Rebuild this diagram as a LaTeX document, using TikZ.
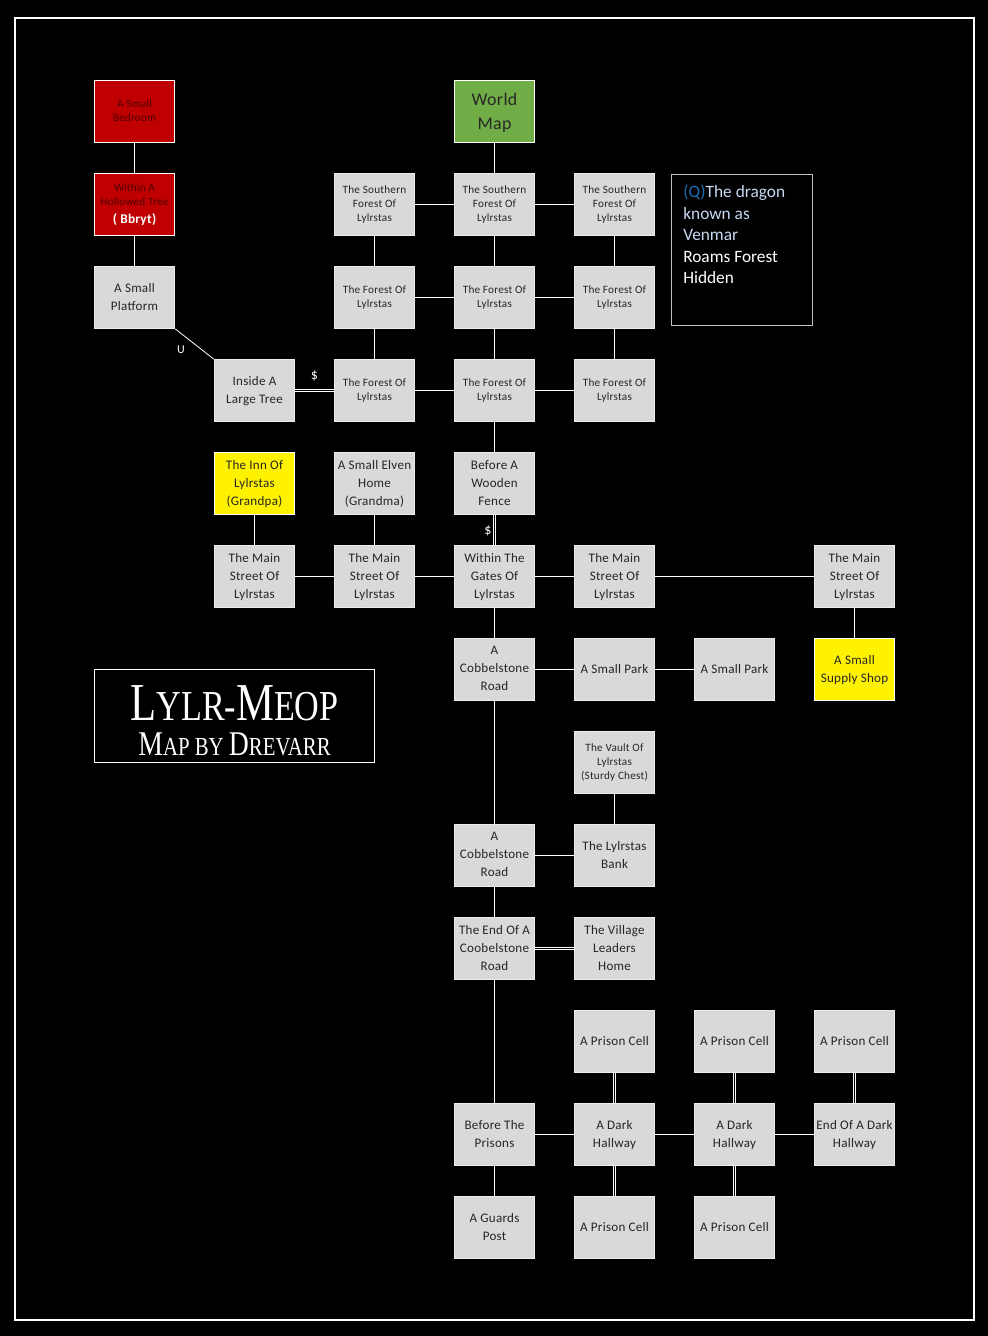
\documentclass[tikz,border=0pt]{standalone}
\usepackage{fontspec}
\setmainfont[LetterSpace=2]{Carlito}
\newfontfamily\plainfont{Carlito}
\newfontfamily\titlefont[FakeStretch=0.8]{Liberation Serif}
\definecolor{roomgray}{HTML}{D9D9D9}
\definecolor{lockedred}{HTML}{C00000}
\definecolor{maproad}{HTML}{70AD47}
\definecolor{questblue}{HTML}{1F6FB5}
\definecolor{questpale}{HTML}{C6D9F1}
\tikzset{
    room/.style={draw=white!50!roomgray, fill=roomgray, line width=0.6pt, minimum width=60.5pt, minimum height=46.5pt, inner sep=0pt, align=center, text=black!85, text depth=1.3pt, font=\fontsize{9.8}{13.5}\selectfont},
    tinyroom/.style={room, text depth=1.6pt, font=\fontsize{8.4}{10.5}\selectfont},
    redroom/.style={room, text depth=1.5pt, draw=white, fill=lockedred, text=black!60!lockedred, font=\fontsize{8.4}{10.5}\selectfont},
    shoproom/.style={room, draw=white, fill=yellow, text=black!85},
    path/.style={draw=white, line width=0.6pt},
    gate/.style={draw=white, line width=0.6pt, double=black, double distance=1pt},
    marker/.style={text=white, font=\fontsize{10.5}{12}\selectfont},
}
\begin{document}
\begin{tikzpicture}[x=0.75pt, y=-0.75pt]
    \useasboundingbox[fill=black] (0,0) rectangle (988,1336);
    \draw[white, line width=1.5pt] (14.5,18) rectangle (974,1320);

    % tree house
    \node[redroom] (bedroom) at (134.5,111.5) {A Small\\Bedroom};
    \node[redroom] (hollow) at (134.5,204.5) {Within A\\Hollowed Tree\\[3pt]{\color{white}\fontsize{10}{12}\selectfont\bfseries ( Bbryt)}};
    \node[room] (platform) at (134.5,297.5) {A Small\\Platform};
    \node[room] (insidetree) at (254.5,390.5) {Inside A\\Large Tree};

    % forest
    \node[room, text depth=1pt, draw=white, fill=maproad, font=\fontsize{13.4}{18}\selectfont] (worldmap) at (494.5,111.5) {World\\Map};
    \node[tinyroom] (southw) at (374.5,204.5) {The Southern\\Forest Of\\Lylrstas};
    \node[tinyroom] (southc) at (494.5,204.5) {The Southern\\Forest Of\\Lylrstas};
    \node[tinyroom] (southe) at (614.5,204.5) {The Southern\\Forest Of\\Lylrstas};
    \node[tinyroom] (midw) at (374.5,297.5) {The Forest Of\\Lylrstas};
    \node[tinyroom] (midc) at (494.5,297.5) {The Forest Of\\Lylrstas};
    \node[tinyroom] (mide) at (614.5,297.5) {The Forest Of\\Lylrstas};
    \node[tinyroom] (lowW) at (374.5,390.5) {The Forest Of\\Lylrstas};
    \node[tinyroom] (lowc) at (494.5,390.5) {The Forest Of\\Lylrstas};
    \node[tinyroom] (lowe) at (614.5,390.5) {The Forest Of\\Lylrstas};

    % village
    \node[shoproom] (inn) at (254.5,483.5) {The Inn Of\\Lylrstas\\(Grandpa)};
    \node[room] (elfhome) at (374.5,483.5) {A Small Elven\\Home\\(Grandma)};
    \node[room] (fence) at (494.5,483.5) {Before A\\Wooden\\Fence};
    \node[room] (street1) at (254.5,576.5) {The Main\\Street Of\\Lylrstas};
    \node[room] (street2) at (374.5,576.5) {The Main\\Street Of\\Lylrstas};
    \node[room] (gates) at (494.5,576.5) {Within The\\Gates Of\\Lylrstas};
    \node[room] (street3) at (614.5,576.5) {The Main\\Street Of\\Lylrstas};
    \node[room] (street4) at (854.5,576.5) {The Main\\Street Of\\Lylrstas};
    \node[room] (cobble1) at (494.5,669.5) {A\\Cobbelstone\\Road};
    \node[room] (park1) at (614.5,669.5) {A Small Park};
    \node[room] (park2) at (734.5,669.5) {A Small Park};
    \node[shoproom] (shop) at (854.5,669.5) {A Small\\Supply Shop};
    \node[tinyroom] (vault) at (614.5,762.5) {The Vault Of\\Lylrstas\\(Sturdy Chest)};
    \node[room] (cobble2) at (494.5,855.5) {A\\Cobbelstone\\Road};
    \node[room] (bank) at (614.5,855.5) {The Lylrstas\\Bank};
    \node[room] (roadend) at (494.5,948.5) {The End Of A\\Coobelstone\\Road};
    \node[room] (leaders) at (614.5,948.5) {The Village\\Leaders\\Home};

    % prisons
    \node[room] (cell1) at (614.5,1041.5) {A Prison Cell};
    \node[room] (cell2) at (734.5,1041.5) {A Prison Cell};
    \node[room] (cell3) at (854.5,1041.5) {A Prison Cell};
    \node[room] (prisons) at (494.5,1134.5) {Before The\\Prisons};
    \node[room] (dark1) at (614.5,1134.5) {A Dark\\Hallway};
    \node[room] (dark2) at (734.5,1134.5) {A Dark\\Hallway};
    \node[room] (darkend) at (854.5,1134.5) {End Of A Dark\\Hallway};
    \node[room] (guards) at (494.5,1227.5) {A Guards\\Post};
    \node[room] (cell4) at (614.5,1227.5) {A Prison Cell};
    \node[room] (cell5) at (734.5,1227.5) {A Prison Cell};

    % plain exits
    \draw[path] (bedroom) -- (hollow);
    \draw[path] (hollow) -- (platform);
    \draw[path] (platform.south east) -- (insidetree.north west);
    \draw[path] (worldmap) -- (southc);
    \foreach \a/\b in {southw/southc, southc/southe, midw/midc, midc/mide, lowW/lowc, lowc/lowe,
        southw/midw, midw/lowW, southc/midc, midc/lowc, southe/mide, mide/lowe, lowc/fence,
        inn/street1, elfhome/street2, street1/street2, street2/gates, gates/street3, street3/street4,
        street4/shop, gates/cobble1, cobble1/park1, park1/park2, cobble1/cobble2, vault/bank,
        cobble2/bank, cobble2/roadend, roadend/prisons, prisons/dark1, dark1/dark2, dark2/darkend,
        prisons/guards}
        \draw[path] (\a) -- (\b);

    % double exits
    \foreach \a/\b in {insidetree/lowW, fence/gates, roadend/leaders, cell1/dark1, cell2/dark2,
        cell3/darkend, dark1/cell4, dark2/cell5}
        \draw[gate] (\a) -- (\b);

    \node[marker, font=\fontsize{9}{11}\selectfont] (upmark) at (181,350) {U};
    \node[marker] (feeone) at (314.5,375.5) {\$};
    \node[marker] (feetwo) at (488,531) {\$};

    % quest note
    \node[draw=white!75!black, line width=0.6pt, minimum width=105.75pt, minimum height=113.25pt, inner sep=0pt] (questbox) at (742,250) {};
    \node[anchor=north west, align=left, inner sep=0pt, text=white, font=\plainfont\fontsize{13}{16.2}\selectfont] (quest) at (683,184.5)
        {{\color{questblue}(Q)}{\color{questpale}The dragon}\\{\color{questpale}known as}\\{\color{questpale}Venmar}\\Roams Forest\\Hidden};

    % title
    \node[draw=white, line width=0.6pt, minimum width=210pt, minimum height=70pt, inner sep=0pt] (titlebox) at (234.5,716) {};
    \node[text=white, font=\titlefont\fontsize{40}{42}\selectfont] (title) at (234.5,703) {L{\fontsize{32}{42}\selectfont YLR-}{\fontsize{40}{42}\selectfont M}{\fontsize{32}{42}\selectfont EOP}};
    \node[text=white, font=\titlefont\fontsize{26}{28}\selectfont] (byline) at (234.5,744) {M{\fontsize{19.5}{28}\selectfont AP BY }D{\fontsize{19.5}{28}\selectfont REVARR}};
\end{tikzpicture}
\end{document}
